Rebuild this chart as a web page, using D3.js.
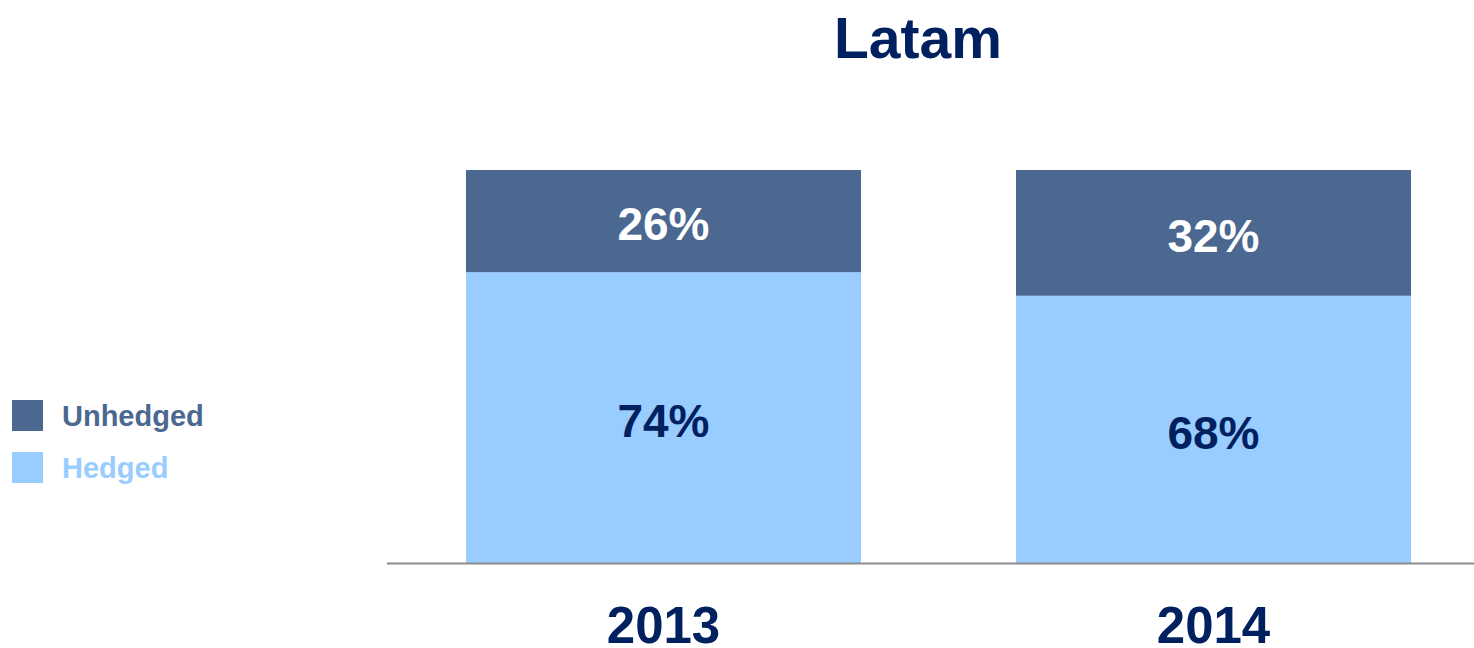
<!DOCTYPE html>
<html>
  <head>
    <meta charset="utf-8">
    <title>Latam</title>
    <script src="https://d3js.org/d3.v7.min.js"></script>
    <style>
      body { margin: 0; background: #fff; }
      svg { display: block; font-family: "Liberation Sans", Arial, sans-serif; font-weight: bold; }
    </style>
  </head>
  <body>
    <svg id="chart" width="1474" height="648"></svg>
    <script>
      // data
      var years = ["2013", "2014"];
      var hedged = [74, 68];
      var unhedged = [26, 32];
      var seriesNames = ["Unhedged", "Hedged"];
      var colours = { Unhedged: "#4a6890", Hedged: "#99ccff" };

      var width = 1474, height = 648;
      var svg = d3.select("#chart");

      var x = d3.scaleBand()
        .domain(years)
        .range([388.5, 1488.5])
        .paddingInner(0.2818)
        .paddingOuter(0.1409);
      var y = d3.scaleLinear()
        .domain([0, 100])
        .range([563, 170]);

      var rows = years.map(function(d, i) {
        return { year: d, Hedged: hedged[i], Unhedged: unhedged[i] };
      });
      var stack = d3.stack().keys(["Hedged", "Unhedged"]);
      var layers = stack(rows);

      // bars
      var groups = svg.selectAll(".layer")
          .data(layers)
        .enter().append("g")
          .attr("class", "layer")
          .attr("fill", function(d) { return colours[d.key]; });
      groups.selectAll("rect")
          .data(function(d) { return d; })
        .enter().append("rect")
          .attr("x", function(d) { return x(d.data.year); })
          .attr("y", function(d) { return y(d[1]); })
          .attr("width", x.bandwidth())
          .attr("height", function(d) { return y(d[0]) - y(d[1]); });

      // value labels
      groups.each(function(layer) {
        d3.select(this).selectAll("text")
            .data(layer)
          .enter().append("text")
            .attr("x", function(d) { return x(d.data.year) + x.bandwidth() / 2; })
            .attr("y", function(d) { return (y(d[0]) + y(d[1])) / 2; })
            .attr("dy", "0.42em")
            .attr("text-anchor", "middle")
            .attr("font-size", 46)
            .attr("fill", layer.key == "Unhedged" ? "#ffffff" : "#002060")
            .text(function(d) { return (d[1] - d[0]) + "%"; });
      });

      // axis line
      svg.append("line")
        .attr("x1", 387)
        .attr("x2", width)
        .attr("y1", y(0) + 0.5)
        .attr("y2", y(0) + 0.5)
        .attr("stroke", "#8c8c8c")
        .attr("stroke-width", 2);

      // category labels
      svg.selectAll(".year")
          .data(years)
        .enter().append("text")
          .attr("class", "year")
          .attr("x", function(d) { return x(d) + x.bandwidth() / 2; })
          .attr("y", 643)
          .attr("text-anchor", "middle")
          .attr("font-size", 51)
          .attr("fill", "#002060")
          .text(function(d) { return d; });

      // title
      svg.append("text")
        .attr("x", 918)
        .attr("y", 58)
        .attr("text-anchor", "middle")
        .attr("font-size", 57)
        .attr("fill", "#002060")
        .text("Latam");

      // legend
      var legend = svg.selectAll(".legend")
          .data(seriesNames)
        .enter().append("g")
          .attr("class", "legend")
          .attr("transform", function(d, i) { return "translate(12," + (400 + i * 52) + ")"; });
      legend.append("rect")
        .attr("width", 31)
        .attr("height", 31)
        .attr("fill", function(d) { return colours[d]; });
      legend.append("text")
        .attr("x", 50)
        .attr("y", 26)
        .attr("font-size", 29)
        .attr("fill", function(d) { return colours[d]; })
        .text(function(d) { return d; });
    </script>
  </body>
</html>
